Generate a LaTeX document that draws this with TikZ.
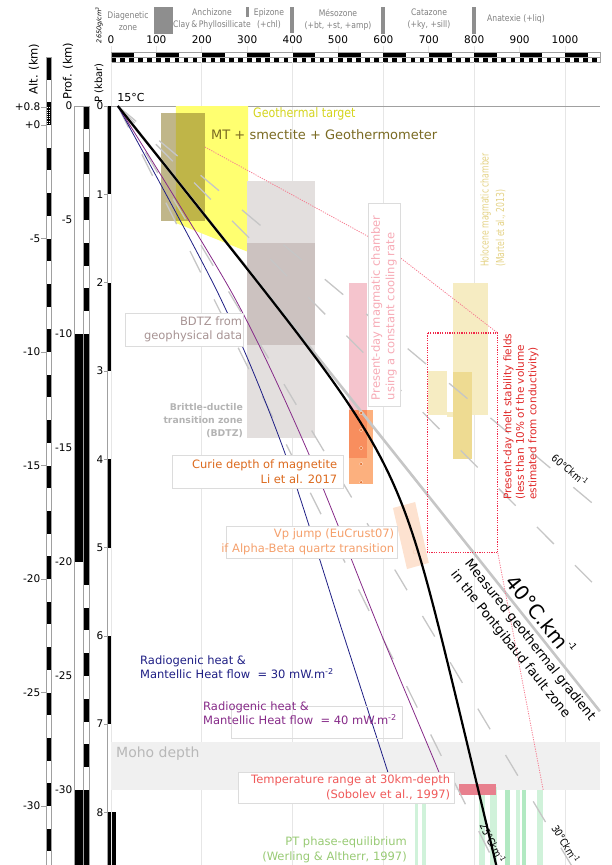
\documentclass[tikz,border=0pt]{standalone}
\usepackage{fontspec}
\setmainfont{DejaVu Sans}
\newfontfamily\condfont[FakeStretch=0.85]{DejaVu Sans}
\newfontfamily\narrowfont[FakeStretch=0.7]{DejaVu Sans}
\usetikzlibrary{positioning}

\definecolor{gridgray}{HTML}{E6E6E6}
\definecolor{axisgray}{HTML}{A0A0A0}
\definecolor{gradgray}{HTML}{C6C6C6}
\definecolor{hdrgray}{HTML}{808080}
\definecolor{hdrbar}{HTML}{8E8E8E}
\definecolor{boxgray}{HTML}{DCDCDC}
\definecolor{geoyellow}{HTML}{FFFF70}
\definecolor{geotext}{HTML}{D4D41E}
\definecolor{mtolive}{HTML}{8C7A28}
\definecolor{mttext}{HTML}{7A6A22}
\definecolor{bdtzlight}{HTML}{E3DFDE}
\definecolor{bdtzdark}{HTML}{CCC2C0}
\definecolor{bdtztext}{HTML}{A89494}
\definecolor{brittletext}{HTML}{B4B4B4}
\definecolor{chamberpink}{HTML}{F5C4CD}
\definecolor{chambertext}{HTML}{F7ABB6}
\definecolor{curiedark}{HTML}{F88E5E}
\definecolor{curielight}{HTML}{FCB07E}
\definecolor{curietext}{HTML}{DC6A1E}
\definecolor{curiedot}{HTML}{E2702E}
\definecolor{holofill}{HTML}{F6ECC2}
\definecolor{holodark}{HTML}{EEDB92}
\definecolor{holotext}{HTML}{E4D286}
\definecolor{meltred}{HTML}{F0284A}
\definecolor{melttext}{HTML}{E02828}
\definecolor{vppeach}{HTML}{FDE2D0}
\definecolor{vptext}{HTML}{F5A06C}
\definecolor{mohogray}{HTML}{F0F0F0}
\definecolor{mohotext}{HTML}{B8B8B8}
\definecolor{temprect}{HTML}{E8808E}
\definecolor{temptext}{HTML}{F05A5A}
\definecolor{ptgreen}{HTML}{D0F2DA}
\definecolor{ptgreendark}{HTML}{B2E9C2}
\definecolor{pttext}{HTML}{98CA74}
\definecolor{heatnavy}{HTML}{1E1E84}
\definecolor{heatpurple}{HTML}{862A88}

\begin{document}
\begin{tikzpicture}[x=1pt, y=-1pt,
    hdr/.style={font=\condfont\fontsize{9}{12}\selectfont, text=hdrgray, align=center, inner sep=0pt},
    tick/.style={font=\fontsize{10.5}{12}\selectfont, inner sep=0.5pt},
    axtitle/.style={font=\fontsize{11.5}{13}\selectfont, rotate=90, inner sep=0pt},
    lblbox/.style={draw=boxgray, fill=white, line width=0.7pt, inner sep=0pt},
    lbl/.style={font=\fontsize{11.5}{14.5}\selectfont, inner sep=0pt},
    gradline/.style={gradgray, line width=1.3pt, dash pattern=on 24pt off 30pt},
    gradlbl/.style={font=\condfont\fontsize{10.5}{12}\selectfont, inner sep=0pt},
    reddot/.style={meltred, line width=1.2pt, dash pattern=on 1.2pt off 1.2pt},
    heatline/.style={line width=0.8pt},
  ]
\useasboundingbox (0,0) rectangle (611,865);

% metamorphic zones
\foreach \xa/\xb/\yb in {154/173/34, 246/249/17, 290/294/33, 381/385/34, 472/476/34}
  \fill[hdrbar] (\xa,7) rectangle (\xb,\yb);
\node[hdr] (diag) at (128,21) {Diagenetic\\zone};
\node[hdr] (anchi) at (212,19) {Anchizone\\Clay\,\&\,Phyllosillicate};
\node[hdr] (epi) at (269,19) {Epizone\\(+chl)};
\node[hdr] (meso) at (338,19.5) {Mésozone\\(+bt, +st, +amp)};
\node[hdr] (cata) at (429,19.5) {Catazone\\(+ky, +sill)};
\node[hdr] (anatex) at (516,19) {Anatexie (+liq)};

% temperature scale
\foreach \t in {0,100,...,1000} {
  \node[tick] (T\t) at ({111+0.454*\t},40) {\t};
  \draw[gridgray, line width=0.8pt] ({111+0.454*\t},46) -- ++(0,6);
}
\begin{scope}[shift={(111pt,-52pt)}, x=0.454pt]
  \foreach \t in {0,100,...,1000} \fill (\t,0) rectangle ++(50,5);
  \foreach \t in {0,20,...,1060} \fill (\t,5) rectangle ++(10,5);
  \draw[axisgray, line width=0.4pt] (0,0) rectangle (1078,10) (0,5) -- (1078,5);
\end{scope}

% altitude scale
\node[axtitle] (alttitle) at (34,69) {Alt. (km)};
\begin{scope}[shift={(46pt,-125pt)}, y=22.7pt]
  \begin{scope}
    \clip (0,3) rectangle (5,-32.6);
    \foreach \a in {-34,-32,...,2} \fill (0,\a) rectangle (5,\a+1);
  \end{scope}
  \draw[white, line width=1pt, dash pattern=on 1pt off 1.2pt] (1.4,0.05) -- (1.4,0.8) (3.6,0.05) -- (3.6,0.8);
  \draw[axisgray, line width=0.4pt] (0,3) rectangle (5,-32.6);
\end{scope}
\foreach \a/\lab [count=\i] in {0.8/+0.8, 0/+0, -5/-5, -10/-10, -15/-15, -20/-20, -25/-25, -30/-30} {
  \node[tick, anchor=east] (alt\i) at (41,{125-22.7*\a}) {\lab};
  \draw[axisgray, line width=0.4pt] (41,{125-22.7*\a}) -- (46,{125-22.7*\a});
}

% depth scale
\node[axtitle] (proftitle) at (68,71) {Prof. (km)};
\begin{scope}[shift={(74pt,-106pt)}, y=-22.8pt]
  \foreach \d in {0,2,...,32} \fill (9,\d) rectangle (15,\d+1);
  \fill (0,10) rectangle (15,20);
  \fill (0,30) rectangle (15,33.3);
  \draw[axisgray, line width=0.4pt] (0,33.3) -- (0,0) -- (15,0) -- (15,33.3) (9,0) -- (9,33.3);
\end{scope}
\foreach \d/\lab [count=\i] in {0/0, 5/-5, 10/-10, 15/-15, 20/-20, 25/-25, 30/-30} {
  \node[tick, anchor=east] (prof\i) at (73,{106+22.8*\d}) {\lab};
}

% pressure scale
\node[axtitle, font=\fontsize{10}{12}\selectfont] (ptitle) at (99,83) {P (kbar)};
\node[axtitle, font=\itshape\fontsize{6.5}{8}\selectfont] (rhotitle) at (99,25) {2650g/cm\textsuperscript{3}};
\begin{scope}[shift={(107pt,-106pt)}, y=-88.3pt]
  \foreach \p in {0,2,4,6} \fill (0,\p) rectangle (4,\p+1);
  \fill (0,8) rectangle (4,8.6);
  \fill (5,8) rectangle (9,8.6);
  \draw[axisgray, line width=0.4pt] (0,8.6) -- (0,0) (4,0) -- (4,8.6);
  \foreach \p in {0,...,8} {
    \node[tick, anchor=east] (p\p) at (-3,\p) {\p};
    \draw[axisgray, line width=0.4pt] (-3,\p) -- (0,\p);
  }
\end{scope}

% T (degC) / depth (km) plot
\begin{scope}[shift={(111pt,-106pt)}, x=0.454pt, y=-22.8pt]
  \foreach \t in {0,200,...,1000}
    \draw[gridgray, line width=0.8pt] (\t,-1.93) -- (\t,33.4);
  \draw[axisgray, line width=0.5pt] (0,0) -- (1078,0);
  \fill[mohogray] (0,27.9) rectangle (1078,30);
  % fields
  \fill[geoyellow] (143,0) -- (302,0) -- (302,6.4) -- (143,5.13) -- cycle;
  \fill[mtolive, opacity=0.55] (110,0.31) rectangle (207,5.04);
  \fill[bdtzlight] (300,3.29) rectangle (449,14.56);
  \fill[bdtzdark] (300,6.0) rectangle (449,10.48);
  \fill[chamberpink] (524,7.76) rectangle (564,13.33);
  \fill[curielight] (524,13.33) rectangle (577,16.58);
  \fill[curiedark] (524,13.33) rectangle (564,15.44);
  \fill[holofill] (753,7.76) rectangle (830,13.55);
  \fill[holofill] (698,11.62) rectangle (740,13.55);
  \fill[holofill] (740,13.42) rectangle (753,13.64);
  \fill[holodark] (753,11.67) rectangle (795,15.48);
  \fill[vppeach] (621,17.63) -- (670,17.37) -- (700,20.04) -- (652,20.31) -- cycle;
  \draw[vptext!45, line width=0.5pt] (654,18.07) circle[radius=2pt] (670,19.56) circle[radius=2pt];
  \foreach \ta/\tb/\dd/\col in {669.6/676/30.57/ptgreen, 685/694/30.57/ptgreen, 810.6/824/30/ptgreen,
      835/850/29.87/ptgreen, 868/879/30/ptgreendark, 892/901/30/ptgreen, 905/914/30/ptgreendark, 938/952/30/ptgreen}
    \fill[\col] (\ta,\dd) rectangle (\tb,33.4);
  \fill[temprect] (767,29.75) rectangle (848,30.2);
  % geothermal gradients
  \foreach \g/\dm in {25/33.4, 30/33.4, 50/21.24, 60/17.7}
    \draw[gradline] (15,0) -- ({15+\g*\dm},\dm);
  \draw[gradgray, line width=2.6pt] (15,0) -- (1077,26.55);
  \draw[heatline, heatnavy] plot[smooth] coordinates {(15,0) (238,8.3) (379,15) (509,23) (608,29.1) (621,30)};
  \draw[heatline, heatpurple] plot[smooth] coordinates {(15,0) (269,8.29) (430,15) (592,23) (720,29.1) (735,30)};
  \draw[line width=2.2pt] plot[domain=0:33.4, samples=90]
    ({15+12*\x+28*(\x-2*ln(1+exp((\x-15.5)/2)))}, \x);
  \foreach \d in {13.46,14.21,15.0,15.7,16.5}
    \filldraw[curiedot, draw=white!60!curielight, line width=0.4pt] (551,\d) circle[radius=1.8pt];
  % melt stability fields and connectors
  \draw[reddot] (698,9.96) rectangle (852,19.6);
  \coordinate (mt-e) at (207,1.8);
  \coordinate (via) at (601,6.1);
  \coordinate (melt-ne) at (852,9.96);
  \coordinate (melt-se) at (852,19.6);
  \coordinate (pt-top) at (952,30);
  \draw[reddot, meltred!60, line width=0.8pt] (mt-e) -- (via) -- (melt-ne);
  \draw[reddot, meltred!60, line width=0.8pt] (melt-se) -- (pt-top);
\end{scope}

% labels
\node[lbl, font=\fontsize{11}{13}\selectfont] (t15) at (131,97) {15°C};
\node[lbl, text=geotext, font=\condfont\fontsize{13}{15}\selectfont, anchor=west] (geolbl) at (253,114) {Geothermal target};
\node[lbl, text=mttext, font=\fontsize{13}{15}\selectfont, anchor=west] (mtlbl) at (211,135) {MT + smectite + Geothermometer};
\node[lblbox, minimum width=118pt, minimum height=33pt] (bdtzbox) at (184,329.5) {};
\node[lbl, text=bdtztext, align=right, anchor=east] (bdtzlbl) at ([xshift=-1pt]bdtzbox.east) {BDTZ from\\geophysical data};
\node[lbl, text=brittletext, font=\bfseries\fontsize{9.3}{13}\selectfont, align=right, anchor=east] (brittlelbl) at (243,421) {Brittle-ductile\\transition zone\\(BDTZ)};
\node[lblbox, minimum width=32pt, minimum height=203pt] (chamberbox) at (384,304.5) {};
\node[lbl, text=chambertext, rotate=90, align=left, anchor=west] (chamberlbl) at ([yshift=6pt]chamberbox.south) {Present-day magmatic chamber\\using a constant cooling rate};
\node[lbl, text=holotext, font=\narrowfont\fontsize{11}{15.5}\selectfont, rotate=90, align=left, anchor=west] (hololbl) at (493,267) {Holocene magmatic chamber\\(Martel et al., 2013)};
\node[lbl, text=melttext, font=\fontsize{10.5}{12.5}\selectfont, rotate=90, align=left, anchor=west] (meltlbl) at (521,500) {Present-day melt stability fields\\(less than 10\% of the volume\\estimated from conductivity)};
\node[lblbox, minimum width=171pt, minimum height=33pt] (curiebox) at (257.5,471.5) {};
\node[lbl, text=curietext, align=right, anchor=east] (curielbl) at ([xshift=-6pt]curiebox.east) {Curie depth of magnetite\\Li et al. 2017};
\node[lblbox, minimum width=171pt, minimum height=32pt] (vpbox) at (311.5,542) {};
\node[lbl, text=vptext, align=right, anchor=east] (vplbl) at ([xshift=-3pt]vpbox.east) {Vp jump (EuCrust07)\\if Alpha-Beta quartz transition};
\node[lbl, text=heatnavy, align=left, anchor=west] (heat30) at (140,667) {Radiogenic heat \&\\Mantellic Heat flow\ \ = 30 mW.m\textsuperscript{-2}};
\node[draw=boxgray, line width=0.7pt, minimum width=171pt, minimum height=32pt] (heatbox) at (316.5,722) {};
\node[lbl, text=heatpurple, align=left, anchor=west] (heat40) at (203,713) {Radiogenic heat \&\\Mantellic Heat flow\ \ = 40 mW.m\textsuperscript{-2}};
\node[lbl, text=mohotext, font=\fontsize{14}{16}\selectfont, anchor=west] (moholbl) at (116,754) {Moho depth};
\node[lblbox, minimum width=216pt, minimum height=31pt] (tempbox) at (346,787.5) {};
\node[lbl, text=temptext, align=right, anchor=east] (templbl) at ([xshift=-4pt]tempbox.east) {Temperature range at 30km-depth\\(Sobolev et al., 1997)};
\node[lbl, text=pttext, align=right, anchor=east] (ptlbl) at (407,850) {PT phase-equilibrium\\(Werling \& Altherr, 1997)};
\node[lbl, font=\fontsize{20}{22}\selectfont, rotate=-51.5] (g40lbl) at (541,615) {40°C.km\raisebox{0.55em}{\fontsize{9}{9}\selectfont -1}};
\node[lbl, font=\fontsize{13}{18}\selectfont, rotate=-51.5, align=left, anchor=west] (measlbl) at (460,567) {Measured geothermal gradient\\in the Pontgibaud fault zone};
\node[gradlbl, rotate=-40] (g60lbl) at (570,470) {60°Ckm\textsuperscript{-1}};
\node[gradlbl, rotate=-59] (g30lbl) at (566,844) {30°Ckm\textsuperscript{-1}};
\node[gradlbl, rotate=-63.5] (g25lbl) at (493,843) {25°Ckm\textsuperscript{-1}};
\end{tikzpicture}
\end{document}
